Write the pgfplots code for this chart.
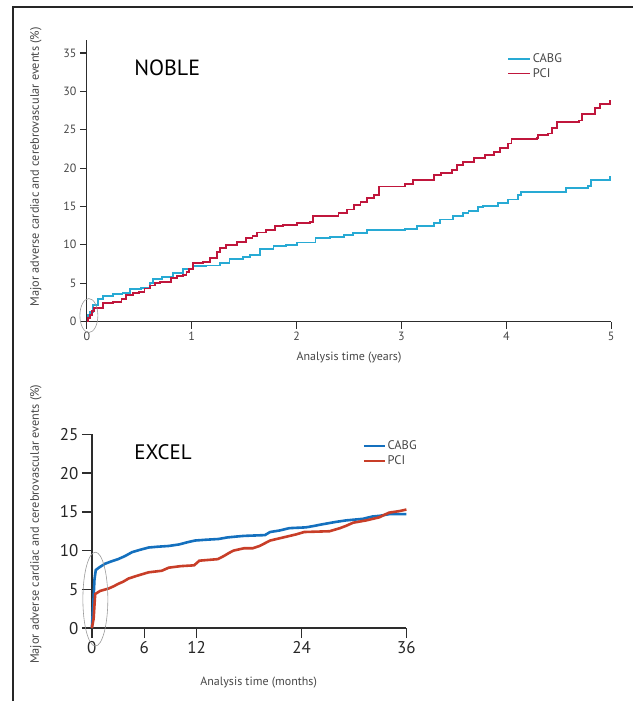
\documentclass[border=0pt]{standalone}
\usepackage{pgfplots}
\pgfplotsset{compat=1.18}
\usepackage{fontspec}
\setmainfont{PT Sans}
\definecolor{cabgA}{RGB}{40,170,212}
\definecolor{pciA}{RGB}{192,22,60}
\definecolor{cabgB}{RGB}{20,112,190}
\definecolor{pciB}{RGB}{200,62,40}
\definecolor{axgray}{RGB}{45,45,45}
\definecolor{lblgray}{RGB}{70,70,70}

\pgfplotstableread{
t v
0 0
0.01 0.8
0.03 1.3
0.06 2.2
0.11 2.9
0.15 3.3
0.25 3.6
0.34 3.7
0.41 4.2
0.52 4.4
0.60 5.0
0.63 5.5
0.72 5.8
0.82 6.3
0.92 6.8
1.01 7.2
1.14 7.3
1.27 7.6
1.36 8.1
1.49 8.4
1.56 8.7
1.65 9.4
1.78 9.8
1.90 10.0
2.00 10.3
2.18 10.9
2.32 11.0
2.45 11.3
2.54 11.5
2.67 11.9
3.03 12.1
3.15 12.4
3.31 12.8
3.37 13.3
3.49 13.7
3.59 14.1
3.64 14.4
3.73 14.9
3.78 15.1
3.92 15.4
4.02 15.9
4.11 16.5
4.14 16.9
4.57 17.4
4.78 17.7
4.81 18.5
4.99 18.9
5.00 18.9
}\nobleCABG

\pgfplotstableread{
t v
0 0
0.01 0.5
0.03 0.9
0.05 1.4
0.07 1.8
0.15 2.4
0.25 2.6
0.33 2.9
0.37 3.5
0.44 3.7
0.50 3.9
0.55 4.3
0.60 4.7
0.65 5.0
0.70 5.2
0.80 5.7
0.86 5.9
0.92 6.1
0.95 6.5
0.97 6.8
1.01 7.6
1.11 7.8
1.17 8.3
1.24 9.1
1.27 9.6
1.33 10.0
1.43 10.4
1.52 10.9
1.58 11.2
1.62 11.6
1.71 11.9
1.79 12.4
1.87 12.6
2.00 12.8
2.13 13.0
2.16 13.8
2.40 14.1
2.48 14.6
2.55 15.2
2.61 15.6
2.67 16.1
2.74 16.5
2.79 17.6
3.03 17.9
3.11 18.4
3.31 19.1
3.38 19.4
3.48 19.7
3.53 20.4
3.59 20.8
3.69 21.3
3.80 21.7
3.88 22.1
3.94 22.6
4.02 23.2
4.05 23.8
4.29 23.9
4.30 24.3
4.40 24.5
4.44 25.2
4.48 26.0
4.69 26.2
4.72 27.0
4.85 27.8
4.89 28.3
4.99 28.8
5.00 28.8
}\noblePCI

\pgfplotstableread{
m v
0 0
0.1 2.0
0.2 4.0
0.3 6.3
0.45 7.5
0.8 7.8
1.5 8.3
2.2 8.6
3.0 8.9
3.8 9.3
4.6 9.8
5.5 10.1
6.5 10.4
7.5 10.5
8.8 10.6
10.0 10.8
11.0 11.1
11.8 11.3
13.0 11.4
14.5 11.5
15.5 11.7
16.4 11.8
17.4 11.9
19.8 12.0
20.4 12.4
21.5 12.6
22.6 12.9
24.5 13.0
25.5 13.2
26.4 13.4
27.9 13.7
29.1 13.9
31.0 14.1
32.1 14.4
33.0 14.5
34.0 14.7
36.0 14.7
}\excelCABG

\pgfplotstableread{
m v
0 0
0.2 1.2
0.3 3.0
0.38 4.4
0.95 4.8
1.9 5.1
2.5 5.4
3.0 5.7
3.6 6.0
4.2 6.4
5.3 6.8
6.5 7.2
8.0 7.4
8.8 7.8
10.2 8.0
11.7 8.1
12.3 8.7
14.4 8.9
15.1 9.3
15.7 9.7
16.2 10.0
17.4 10.3
18.4 10.3
19.2 10.6
20.4 11.3
21.9 11.7
23.4 12.1
24.3 12.4
27.2 12.5
28.4 12.9
29.1 13.2
29.9 13.6
31.4 13.9
32.9 14.3
34.0 14.9
35.2 15.1
36.0 15.3
}\excelPCI

\begin{document}
\begin{tikzpicture}[x=1pt,y=1pt]
\path (0,0) rectangle (635,702);
\draw[line width=2pt, black!85] (13,0) -- (13,695) -- (634,695);

% NOBLE
\begin{axis}[
  at={(87pt,380pt)}, anchor=south west,
  scale only axis, width=525pt, height=282pt,
  xmin=0, xmax=5, ymin=0, ymax=36.7,
  axis lines=left,
  axis line style={-, line width=1.2pt, axgray},
  xtick={0,1,2,3,4,5}, ytick={0,5,10,15,20,25,30,35},
  tick style={line width=1.1pt, axgray},
  tick align=outside, major tick length=7pt,
  tick label style={font=\fontsize{12}{14}\selectfont, text=lblgray},
  /pgf/number format/assume math mode=true,
  clip=false,
  legend cell align=left,
  legend image code/.code={\draw[#1, sharp plot] (0pt,0pt) -- (22pt,0pt);},
  legend style={at={(rel axis cs:0.802,0.958)}, anchor=north west, draw=none, fill=none,
    inner sep=0pt, row sep=1.5pt, font=\fontsize{12.5}{14}\selectfont,
    text=lblgray, nodes={inner sep=1.5pt}},
]
\addplot[const plot mark left, cabgA, line width=1.9pt] table[x=t,y=v] {\nobleCABG};
\addlegendentry{CABG}
\addplot[const plot mark left, pciA, line width=1.9pt] table[x=t,y=v] {\noblePCI};
\addlegendentry{PCI}
\end{axis}

% EXCEL
\begin{axis}[
  at={(92pt,73pt)}, anchor=south west,
  scale only axis, width=315pt, height=194pt,
  xmin=0, xmax=36, ymin=0, ymax=25,
  axis lines=left,
  axis line style={-, line width=1.5pt, axgray},
  xtick={0,6,12,24,36}, ytick={0,5,10,15,20,25},
  tick style={line width=1.3pt, axgray},
  tick align=outside, major tick length=10pt,
  tick label style={font=\fontsize{17}{19}\selectfont, text=black!85},
  /pgf/number format/assume math mode=true,
  clip=false,
  legend cell align=left,
  legend image code/.code={\draw[#1] (0pt,0pt) -- (21pt,0pt);},
  legend style={at={(rel axis cs:0.860,0.975)}, anchor=north west, draw=none, fill=none,
    inner sep=0pt, row sep=1.5pt, font=\fontsize{12.5}{14}\selectfont,
    text=lblgray, nodes={inner sep=1.5pt}},
]
\addplot[cabgB, line width=2.6pt] table[x=m,y=v] {\excelCABG};
\addlegendentry{CABG}
\addplot[pciB, line width=2.6pt] table[x=m,y=v] {\excelPCI};
\addlegendentry{PCI}
\end{axis}

% titles, labels, annotations
\node[anchor=west, font=\fontsize{22}{24}\selectfont] at (131,634) {NOBLE};
\node[anchor=west, font=\fontsize{21}{23}\selectfont] at (131,249) {EXCEL};
\node[font=\fontsize{12}{14}\selectfont, text=lblgray] at (349.5,344) {Analysis time (years)};
\node[font=\fontsize{12}{14}\selectfont, text=lblgray] at (259,18) {Analysis time (months)};
\node[rotate=90, font=\fontsize{12.3}{14}\selectfont, text=lblgray] at (36,535) {Major adverse cardiac and cerebrovascular events (\%)};
\node[rotate=90, font=\fontsize{12.3}{14}\selectfont, text=lblgray] at (36,177) {Major adverse cardiac and cerebrovascular events (\%)};
\draw[gray!80, line width=0.6pt] (89,386) ellipse (9 and 17);
\draw[gray!80, line width=0.6pt] (95.5,102) ellipse (12.5 and 47);
\end{tikzpicture}
\end{document}
